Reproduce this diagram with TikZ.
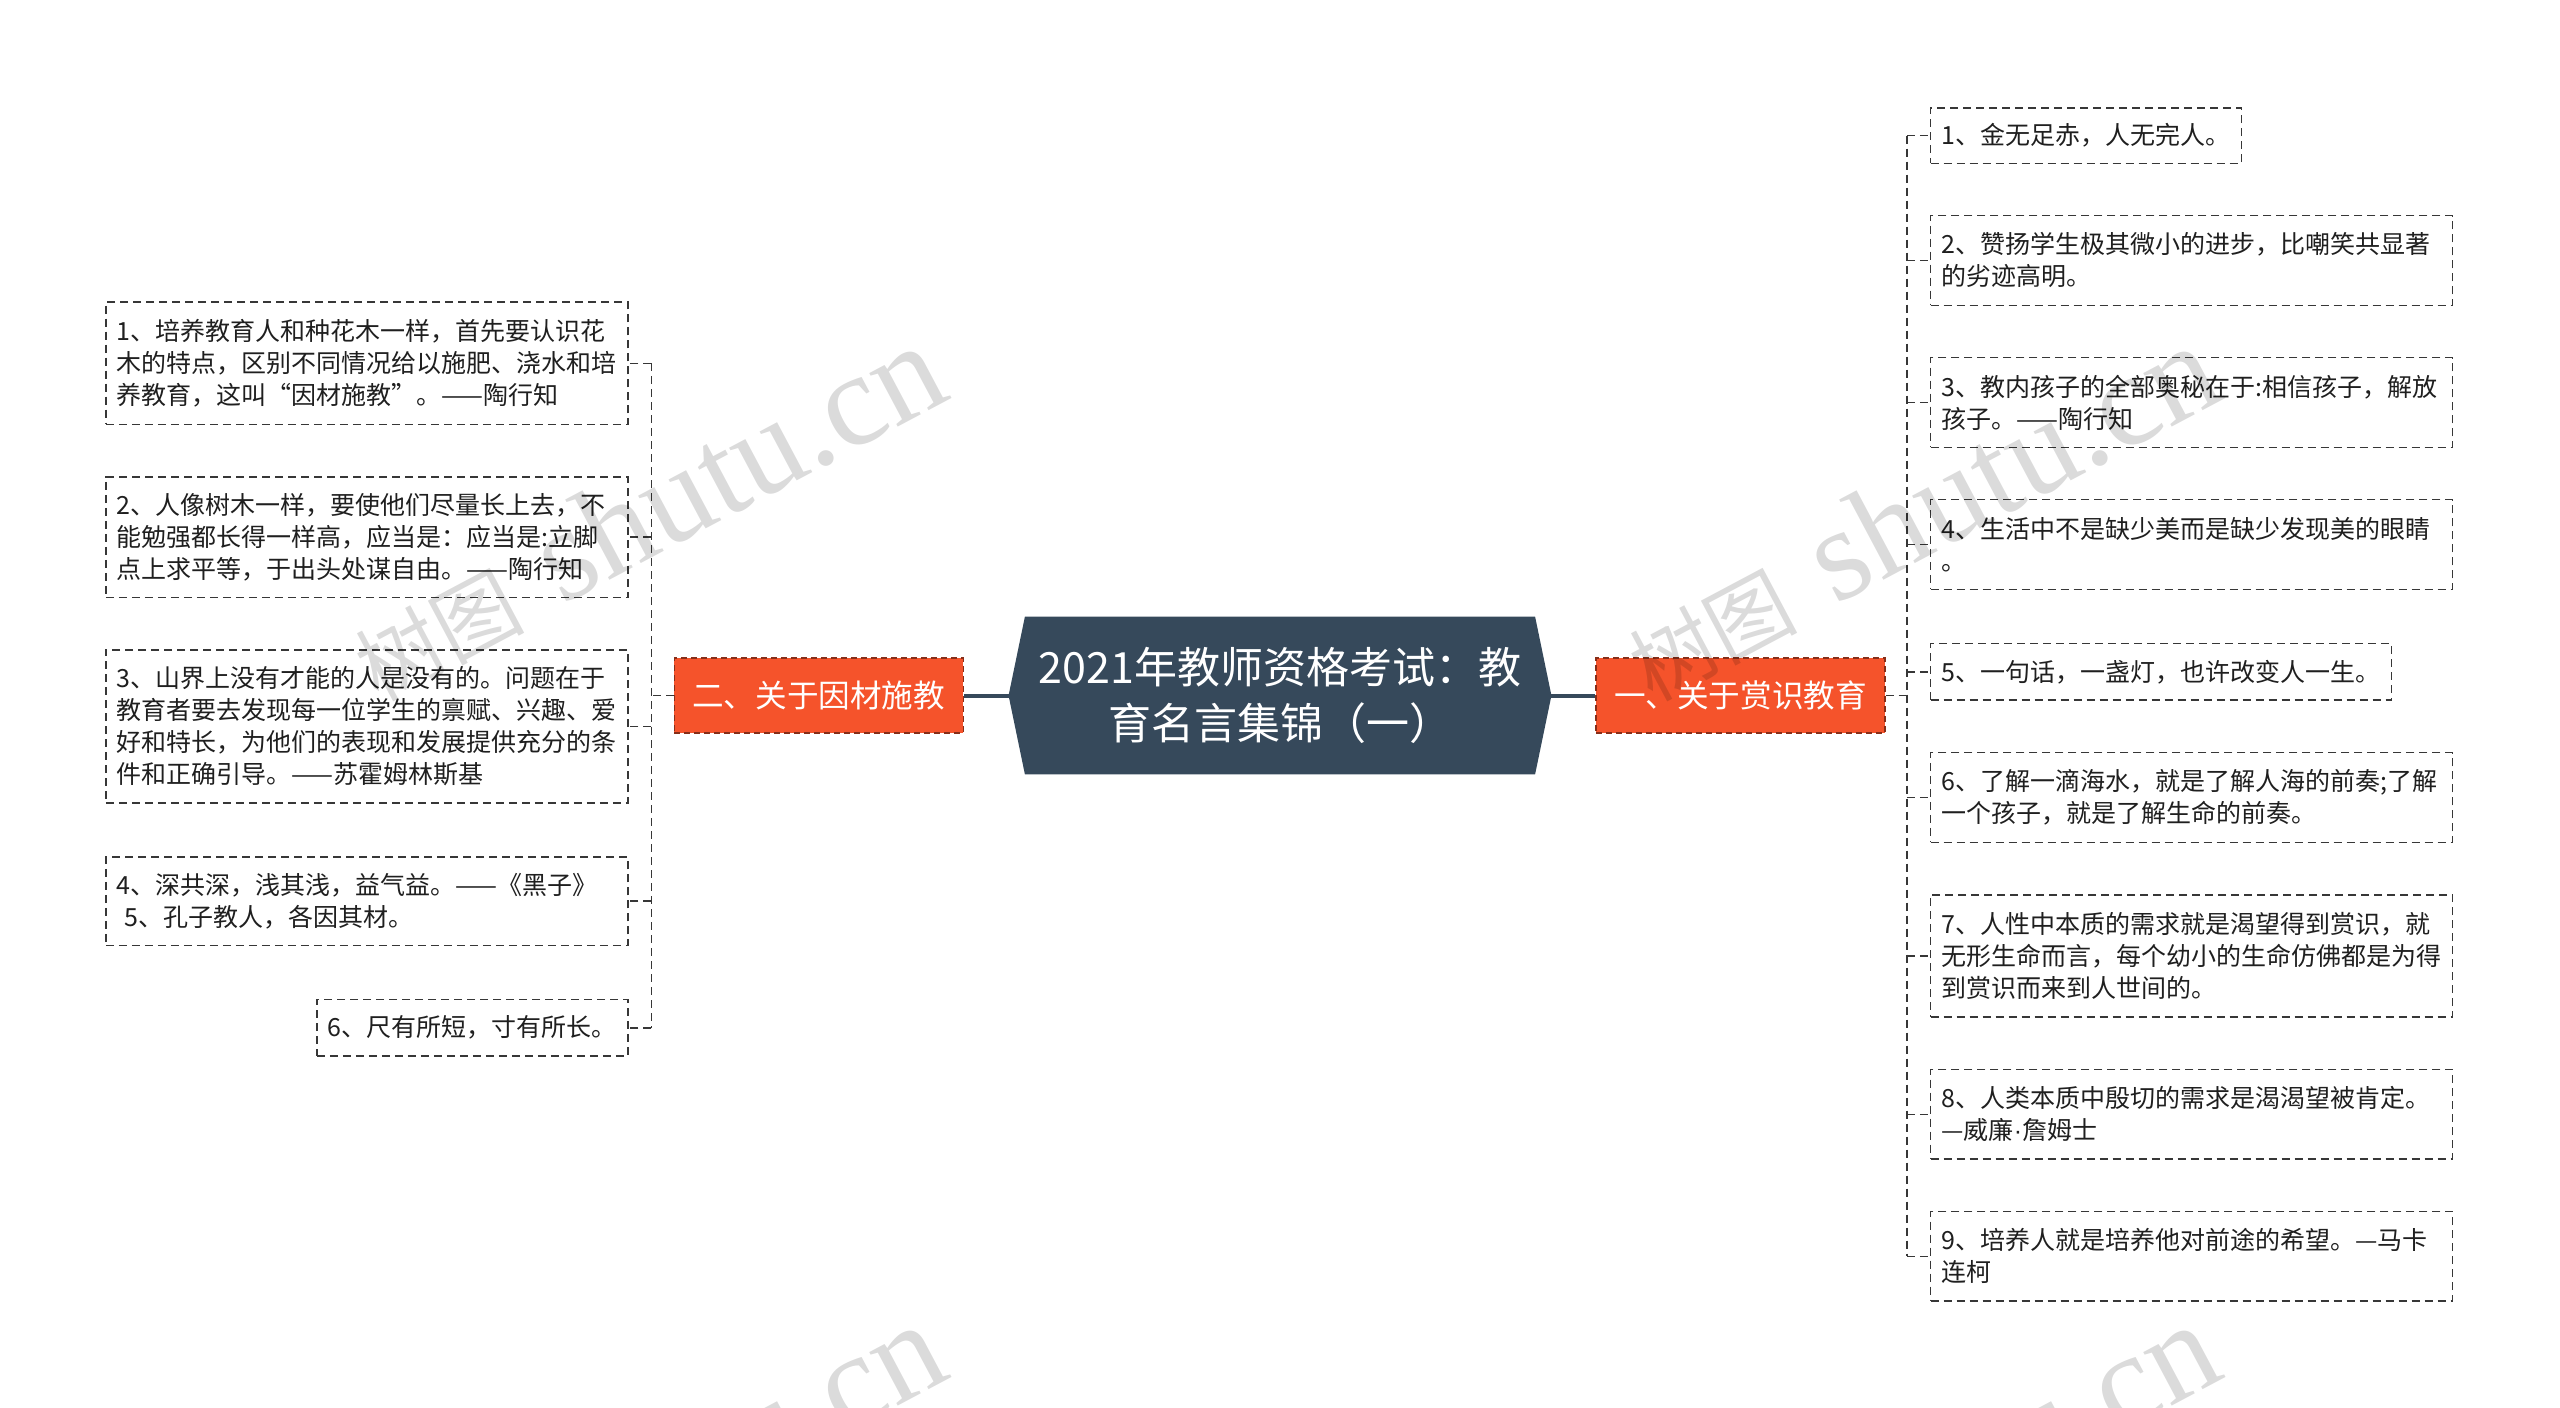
\documentclass[tikz,border=0pt]{standalone}
\usepackage{fontspec}
\setmainfont{Noto Sans CJK SC}
\newfontfamily\wmserif{Liberation Serif}
\newfontfamily\latinsans{Liberation Sans}
\usetikzlibrary{backgrounds,calc}
\definecolor{hubc}{RGB}{54,73,91}
\definecolor{branchc}{RGB}{245,83,43}
\definecolor{linec}{RGB}{55,55,55}
\begin{document}
\begin{tikzpicture}[x=0.8163pt,y=-0.8163pt,
  leaf/.style={draw=linec, line width=0.8pt, dash pattern=on 4pt off 2.5pt,
    inner xsep=5.5pt, inner ysep=2pt, align=left,
    font=\fontsize{12.5pt}{16pt}\selectfont, text=black!88},
  wide/.style={text width=250pt},
  lleaf/.style={leaf, anchor=east},
  rleaf/.style={leaf, anchor=west},
  branch/.style={fill=branchc, draw=branchc!55!black, line width=0.6pt,
    dash pattern=on 3pt off 2pt, text=white, inner sep=0pt,
    minimum width=144.5pt, minimum height=37.5pt,
    font=\fontsize{15.8pt}{18pt}\selectfont},
  hubnode/.style={inner sep=0pt, minimum width=254.7pt, minimum height=78.4pt,
    align=center, text=white, font=\fontsize{21.5pt}{28pt}\selectfont},
  hubline/.style={draw=hubc, line width=2pt},
  conn/.style={draw=linec, line width=0.75pt, dash pattern=on 4pt off 2.5pt},
  wm/.style={rotate=28, text=black, text opacity=0.14, inner sep=0pt}
]
\useasboundingbox (0,0) rectangle (1568,862);

% central node
\node[hubnode] (hubn) at (784,426) {2021年教师资格考试：教\\育名言集锦（一）};
\begin{scope}[on background layer]
\fill[hubc] (hubn.north west) -- (hubn.north east) -- ($(hubn.east)+(10,0)$)
  -- (hubn.south east) -- (hubn.south west) -- ($(hubn.west)+(-10,0)$) -- cycle;
\end{scope}
\coordinate (hubL) at ($(hubn.west)+(-10,0)$);
\coordinate (hubR) at ($(hubn.east)+(10,0)$);

% branches
\node[branch] (lb) at (501.5,426) {二、关于因材施教};
\node[branch] (rb) at (1066,426) {一、关于赏识教育};
\draw[hubline] (hubL) -- (lb.east);
\draw[hubline] (hubR) -- (rb.west);

% left leaves
\node[lleaf, wide, minimum height=61.2pt] (L1) at (385,222.5) {1、培养教育人和种花木一样，首先要认识花\\木的特点，区别不同情况给以施肥、浇水和培\\养教育，这叫“因材施教”。——陶行知};
\node[lleaf, wide, minimum height=60.4pt] (L2) at (385,329) {2、人像树木一样，要使他们尽量长上去，不\\能勉强都长得一样高，应当是：应当是:立脚\\点上求平等，于出头处谋自由。——陶行知};
\node[lleaf, wide, minimum height=76.7pt] (L3) at (385,445) {3、山界上没有才能的人是没有的。问题在于\\教育者要去发现每一位学生的禀赋、兴趣、爱\\好和特长，为他们的表现和发展提供充分的条\\件和正确引导。——苏霍姆林斯基};
\node[lleaf, wide, minimum height=44.1pt] (L4) at (385,552) {4、深共深，浅其浅，益气益。——《黑子》\\\hspace*{0.3em}5、孔子教人，各因其材。};
\node[lleaf, minimum height=28.2pt] (L5) at (385,629.5) {6、尺有所短，寸有所长。};

\coordinate (lbus) at (399,426);
\draw[conn] (lb.west) -- (lbus);
\draw[conn] (lbus |- L1.east) -- (lbus |- L5.east);
\foreach \n in {L1,L2,L3,L4,L5} \draw[conn] (lbus |- \n.east) -- (\n.east);

% right leaves
\node[rleaf, minimum height=27.8pt] (R1) at (1182,83) {1、金无足赤，人无完人。};
\node[rleaf, wide, minimum height=44.9pt] (R2) at (1182,159.5) {2、赞扬学生极其微小的进步，比嘲笑共显著\\的劣迹高明。};
\node[rleaf, wide, minimum height=44.9pt] (R3) at (1182,246.5) {3、教内孩子的全部奥秘在于:相信孩子，解放\\孩子。——陶行知};
\node[rleaf, wide, minimum height=44.9pt] (R4) at (1182,333.5) {4、生活中不是缺少美而是缺少发现美的眼睛\\。};
\node[rleaf, minimum height=28.2pt] (R5) at (1182,411.5) {5、一句话，一盏灯，也许改变人一生。};
\node[rleaf, wide, minimum height=44.9pt] (R6) at (1182,488.5) {6、了解一滴海水，就是了解人海的前奏;了解\\一个孩子，就是了解生命的前奏。};
\node[rleaf, wide, minimum height=61.2pt] (R7) at (1182,585.5) {7、人性中本质的需求就是渴望得到赏识，就\\无形生命而言，每个幼小的生命仿佛都是为得\\到赏识而来到人世间的。};
\node[rleaf, wide, minimum height=44.9pt] (R8) at (1182,682.5) {8、人类本质中殷切的需求是渴渴望被肯定。\\—威廉{\latinsans ·}詹姆士};
\node[rleaf, wide, minimum height=44.9pt] (R9) at (1182,769.5) {9、培养人就是培养他对前途的希望。—马卡\\连柯};

\coordinate (rbus) at (1168,426);
\draw[conn] (rb.east) -- (rbus);
\draw[conn] (rbus |- R1.west) -- (rbus |- R9.west);
\foreach \n in {R1,R2,R3,R4,R5,R6,R7,R8,R9} \draw[conn] (rbus |- \n.west) -- (\n.west);

% watermark
\begin{scope}
\clip (0,0) rectangle (1568,862);
\foreach \px/\py in {396/314,1176/314,396/914,1176/914}
  \node[wm] (wm-\px-\py) at (\px,\py) {{\fontsize{42pt}{42pt}\selectfont 树图}{\wmserif\fontsize{66pt}{66pt}\selectfont\hspace{0.3em}shutu.cn}};
\end{scope}
\end{tikzpicture}
\end{document}
